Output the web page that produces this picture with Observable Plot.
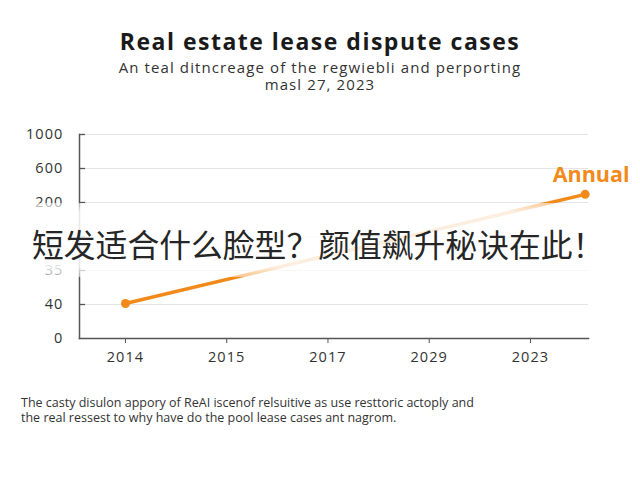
<!DOCTYPE html>
<html>
<head>
<meta charset="utf-8">
<script src="https://cdn.jsdelivr.net/npm/d3@7"></script>
<script src="https://cdn.jsdelivr.net/npm/@observablehq/plot@0.6"></script>
<style>
  html, body { margin: 0; padding: 0; background: #fff; }
  #page { position: relative; width: 640px; height: 480px; overflow: hidden; font-family: "Open Sans", sans-serif; color: #222; }
  .abs { position: absolute; }
  #title { left: 0; width: 640px; top: 27px; text-align: center; font-size: 23px; letter-spacing: 1.5px; font-weight: 700; line-height: 28px; color: #1a1a1a; }
  .sub { left: 0; width: 640px; text-align: center; font-size: 15px; letter-spacing: 1.1px; line-height: 16px; color: #333; }
  #sub1 { top: 59px; }
  #sub2 { top: 76px; }
  #chart { left: 0; top: 110px; }
  .cap { left: 21px; width: 610px; font-size: 12.5px; line-height: 15px; color: #333; white-space: nowrap; }
  #cap1 { top: 395px; }
  #cap2 { top: 410px; }
  #band { left: 0; width: 640px; top: 203px; height: 74px;
    background: linear-gradient(to bottom, rgba(255,255,255,0.55) 0%, rgba(255,255,255,0.86) 12%, rgba(255,255,255,0.86) 86%, rgba(255,255,255,0.5) 100%); }
  #overlay { left: 32px; top: 224px; font-family: "Noto Sans CJK SC", sans-serif; font-size: 31.8px; line-height: 38px; color: #262626; white-space: nowrap; }
  #chart g[aria-label="x-axis tick label"] text,
  #chart g[aria-label="y-axis tick label"] text { letter-spacing: 1.1px; }
  #chart g[aria-label="annual-label"] text { letter-spacing: 1.8px; }
</style>
</head>
<body>
<div id="page">
  <div id="title" class="abs">Real estate lease dispute cases</div>
  <div id="sub1" class="abs sub">An teal ditncreage of the regwiebli and perporting</div>
  <div id="sub2" class="abs sub">masl 27, 2023</div>
  <div id="chart" class="abs"></div>
  <div id="band" class="abs"></div>
  <div id="overlay" class="abs">短发适合什么脸型？颜值飙升秘诀在此！</div>
  <div id="cap1" class="abs cap">The casty disulon appory of ReAI iscenof relsuitive as use resttoric actoply and</div>
  <div id="cap2" class="abs cap">the real ressest to why have do the pool lease cases ant nagrom.</div>
</div>
<script>
// Tick labels as printed on the chart (axes are ordinal positions)
const xLabels = ["2014", "2015", "2017", "2029", "2023"];
const yLabels = ["0", "40", "35", "", "200", "600", "1000"];

// Series "Annual": positions, in axis-slot units
const seriesName = "Annual";
const seriesX = [0, 4.54];
const seriesY = [1.03, 4.24];

const xTicks = xLabels.map((_, i) => i);
const yTicks = yLabels.map((_, i) => i);
const xDomain = [-0.454, 4.573];
const data = seriesX.map((x, i) => ({x, y: seriesY[i]}));
const last = data[data.length - 1];
const orange = "#F28A1A";

const chart = Plot.plot({
  width: 640,
  height: 260,
  marginTop: 24,
  marginBottom: 32,
  marginLeft: 79,
  marginRight: 52,
  style: {fontFamily: "Open Sans, sans-serif", background: "transparent"},
  x: {domain: xDomain, label: null},
  y: {domain: [0, 6], label: null},
  marks: [
    Plot.gridY(yTicks.filter(d => d > 0), {stroke: "#e4e4e4", strokeOpacity: 1}),
    Plot.ruleY(yTicks.filter(d => d > 0), {x1: xDomain[0], x2: xDomain[0] + 0.06, stroke: "#555", strokeWidth: 1.3}),
    Plot.axisY(yTicks, {label: null, tickSize: 0, tickPadding: 16, tickFormat: i => yLabels[i], fontSize: 14.5, color: "#333"}),
    Plot.axisX(xTicks, {label: null, tickSize: 5, tickPadding: 8, tickFormat: i => xLabels[i], fontSize: 14.5, color: "#333", stroke: "#555"}),
    Plot.frame({anchor: "left", stroke: "#555", strokeWidth: 1.5}),
    Plot.frame({anchor: "bottom", stroke: "#555", strokeWidth: 1.5}),
    Plot.line(data, {x: "x", y: "y", stroke: orange, strokeWidth: 3.5}),
    Plot.dot(data, {x: "x", y: "y", r: 4.5, fill: orange}),
    Plot.text([last], {x: "x", y: "y", text: () => seriesName, dx: 6, dy: -19, fill: orange, fontSize: 21.5, fontWeight: 700, ariaLabel: "annual-label"})
  ]
});
document.getElementById("chart").appendChild(chart);
</script>
</body>
</html>
